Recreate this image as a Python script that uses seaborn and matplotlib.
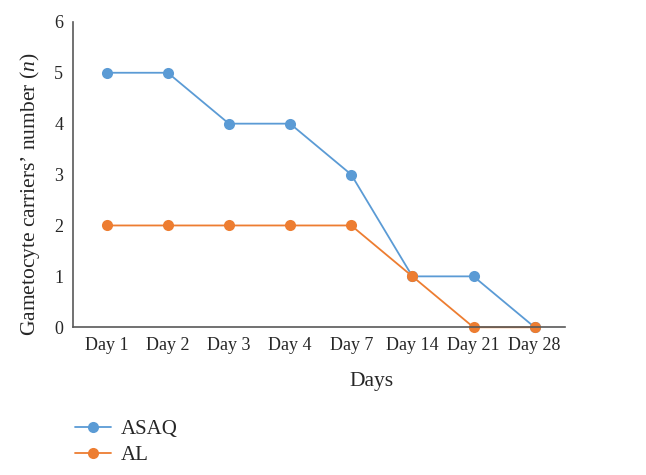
import pandas as pd
import seaborn as sns
import matplotlib.pyplot as plt

days = ["Day 1", "Day 2", "Day 3", "Day 4", "Day 7", "Day 14", "Day 21", "Day 28"]
asaq = [5, 5, 4, 4, 3, 1, 1, 0]
al = [2, 2, 2, 2, 2, 1, 0, 0]

df = pd.DataFrame({
    "day": days * 2,
    "n": asaq + al,
    "group": ["ASAQ"] * len(days) + ["AL"] * len(days),
})

sns.set_style("white")
plt.rcParams['font.family'] = ['Liberation Serif', 'DejaVu Serif']
plt.rcParams['mathtext.fontset'] = 'custom'
plt.rcParams['mathtext.it'] = 'Liberation Serif:italic'
plt.rcParams['mathtext.rm'] = 'Liberation Serif'

fig = plt.figure(figsize=(6.46, 4.75), dpi=100)
ax = fig.add_axes([0.113, 0.311, 0.762, 0.643])
sns.lineplot(data=df, x="day", y="n", hue="group", marker="o", markersize=8,
             markeredgewidth=0, linewidth=1.3, sort=False,
             palette={"ASAQ": "#5B9BD5", "AL": "#ED7D31"}, ax=ax)
for ln in ax.lines:
    ln.set_clip_on(False)

ax.set_ylim(0, 6)
ax.set_xlim(-0.55, 7.5)
ax.set_yticks(range(7))
ax.tick_params(labelsize=13, length=0, pad=7)
ax.set_xlabel("Days", fontsize=15.5)
ax.set_ylabel("Gametocyte carriers\u2019 number ($\\it{n}$)", fontsize=15.5)
ax.xaxis.set_label_coords(0.606, -0.146)
ax.yaxis.set_label_coords(-0.062, 0.436)
sns.despine(ax=ax)
for s in ["left", "bottom"]:
    ax.spines[s].set_color("#595959")
    ax.spines[s].set_linewidth(1.2)

h, l = ax.get_legend_handles_labels()
ax.legend(h, l, loc="lower left", bbox_to_anchor=(0.087, -0.018), bbox_transform=fig.transFigure,
          frameon=False, fontsize=15, handlelength=1.75, handletextpad=0.45, labelspacing=0.3)

fig.savefig("out.png", dpi=100)
